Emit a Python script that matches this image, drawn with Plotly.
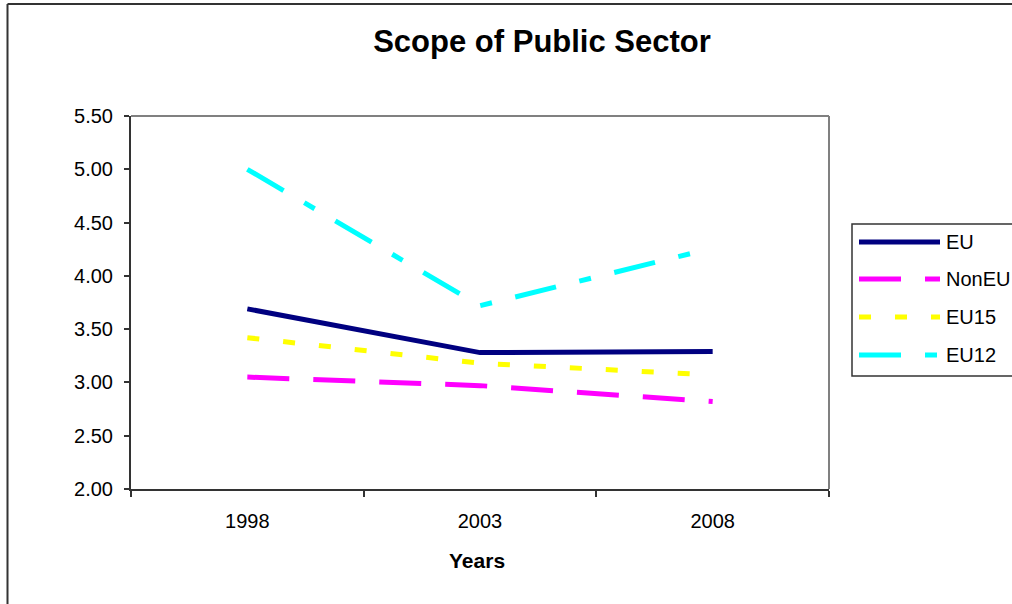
import plotly.graph_objects as go

# Chart data
years = ["1998", "2003", "2008"]
eu = [3.69, 3.28, 3.29]
non_eu = [3.05, 2.97, 2.82]
eu15 = [3.42, 3.18, 3.07]
eu12 = [5.00, 3.72, 4.26]
y_ticks = [2.0, 2.5, 3.0, 3.5, 4.0, 4.5, 5.0, 5.5]

series = [
    ("EU", eu, "#000080", "solid"),
    ("NonEU", non_eu, "#FF00FF", "42px,24px"),
    ("EU15", eu15, "#FFFF00", "12px,24px"),
    ("EU12", eu12, "#00FFFF", "42px,24px,12px,24px"),
]

W, H = 1012, 604
L, R, T, B = 131, 829, 116, 489  # plot area in pixels
FONT = "Arial, Liberation Sans, sans-serif"


def px(x):
    return (x - L) / (R - L)


def py(y):
    return (B - y) / (B - T)


fig = go.Figure()
for name, vals, color, dash in series:
    fig.add_trace(go.Scatter(
        x=years, y=vals, name=name, mode="lines",
        line=dict(color=color, width=5, dash=dash),
        showlegend=False,
    ))

shapes = []
# outer chart frame (left and top edges)
shapes.append(dict(type="line", xref="paper", yref="paper",
                   x0=px(7.5), x1=px(7.5), y0=py(4), y1=py(700),
                   line=dict(color="#333333", width=2)))
shapes.append(dict(type="line", xref="paper", yref="paper",
                   x0=px(7.5), x1=px(1100), y0=py(4), y1=py(4),
                   line=dict(color="#333333", width=2)))
# plot-area top and right border
shapes.append(dict(type="line", xref="paper", yref="paper",
                   x0=0, x1=1, y0=1, y1=1, line=dict(color="#808080", width=2)))
shapes.append(dict(type="line", xref="paper", yref="paper",
                   x0=1, x1=1, y0=0, y1=1, line=dict(color="#808080", width=2)))

# legend box (left, top, bottom edges; it runs past the right edge)
shapes.append(dict(type="rect", xref="paper", yref="paper",
                   x0=px(852), x1=px(1100), y0=py(376), y1=py(224),
                   line=dict(color="#333333", width=1.5), fillcolor="white"))
annotations = []
legend_rows = [242, 279, 317, 355]
for (name, vals, color, dash), yy in zip(series, legend_rows):
    shapes.append(dict(type="line", xref="paper", yref="paper",
                       x0=px(859), x1=px(940), y0=py(yy), y1=py(yy),
                       line=dict(color=color, width=5, dash=dash)))
    annotations.append(dict(xref="paper", yref="paper", x=px(944), y=py(yy),
                            text=name, showarrow=False, xanchor="left",
                            yanchor="middle",
                            font=dict(family=FONT, size=20, color="black")))

# axis title
annotations.append(dict(xref="paper", yref="paper", x=px(477), y=py(560),
                        text="<b>Years</b>", showarrow=False,
                        xanchor="center", yanchor="middle",
                        font=dict(family=FONT, size=21, color="black")))

fig.update_layout(
    width=W, height=H,
    margin=dict(l=L, r=W - R, t=T, b=H - B, pad=0),
    paper_bgcolor="white", plot_bgcolor="white",
    title=dict(text="<b>Scope of Public Sector</b>", x=542 / W, xanchor="center",
               y=1 - 41 / H, yanchor="middle", yref="container",
               font=dict(family=FONT, size=31, color="black")),
    font=dict(family=FONT, color="black"),
    shapes=shapes,
    annotations=annotations,
    xaxis=dict(
        type="category", range=[-0.5, 2.5], tickson="boundaries",
        showgrid=False, zeroline=False, showline=True,
        linecolor="#333333", linewidth=2,
        ticks="outside", ticklen=6, tickwidth=1.5, tickcolor="#333333",
        tickfont=dict(family=FONT, size=20, color="black"),
        ticklabelstandoff=13,
    ),
    yaxis=dict(
        range=[2.0, 5.5], tickvals=y_ticks, tickformat=".2f",
        showgrid=False, zeroline=False, showline=True,
        linecolor="#333333", linewidth=2,
        ticks="outside", ticklen=5, tickwidth=1.5, tickcolor="#333333",
        tickfont=dict(family=FONT, size=20, color="black"),
        ticklabelstandoff=7,
    ),
)

fig.write_html("out.html")
